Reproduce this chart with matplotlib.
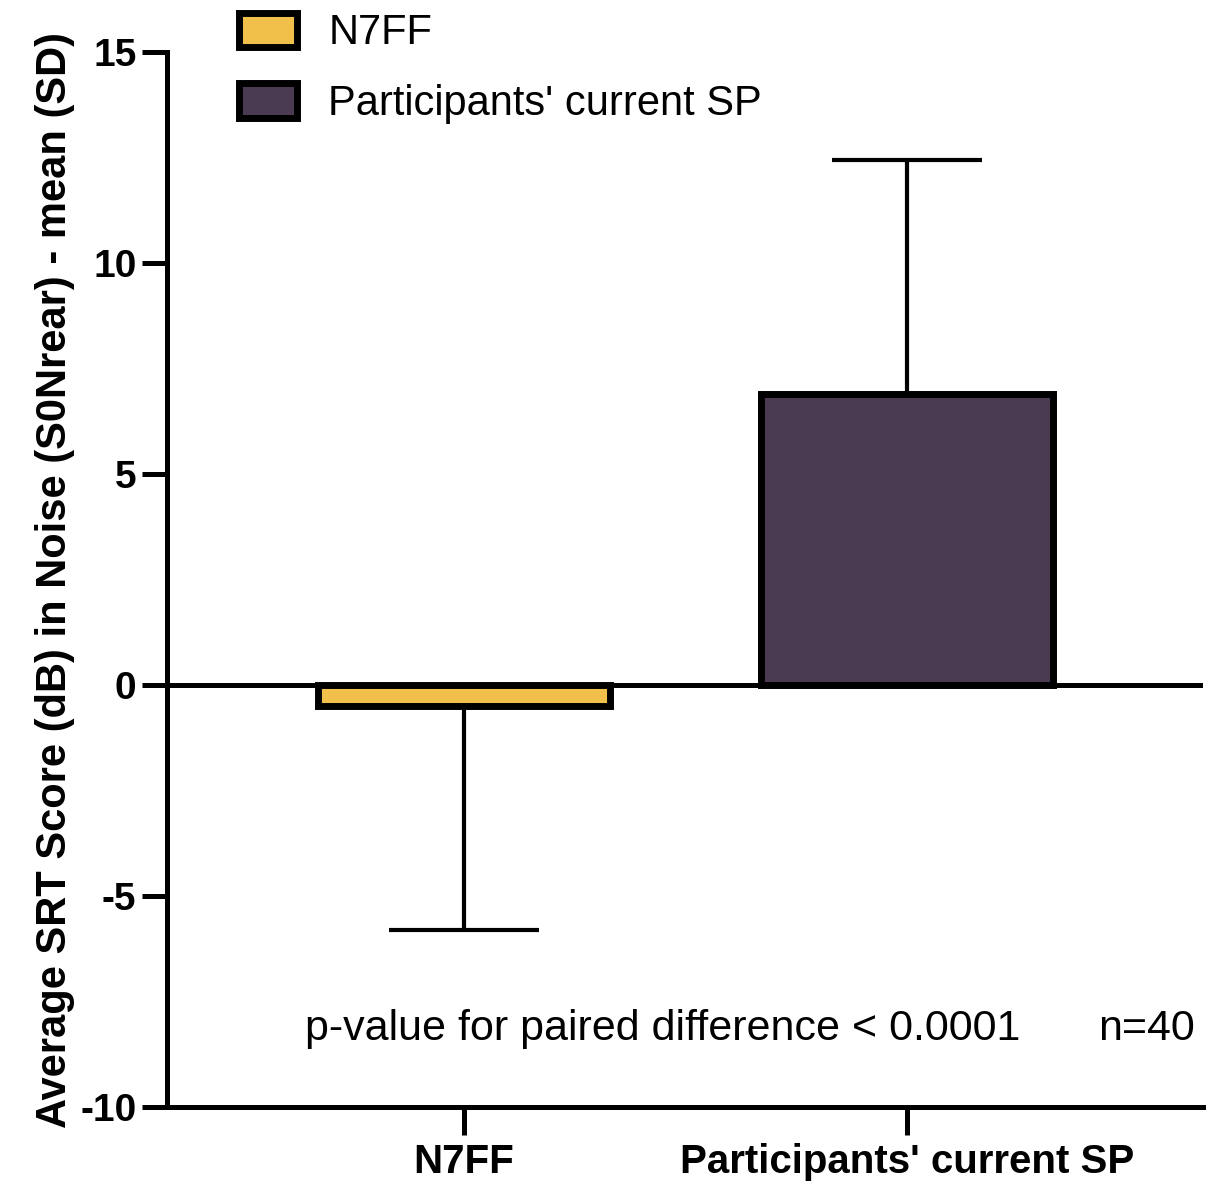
import matplotlib.pyplot as plt
import matplotlib.patches as mpatches

# data
groups = ["N7FF", "Participants' current SP"]
means = [-0.5, 6.9]
sds = [5.3, 5.55]
colors = ["#F0C04A", "#4A3A52"]
yticks = [-10, -5, 0, 5, 10, 15]

plt.rcParams['font.family'] = ['Liberation Sans', 'DejaVu Sans']

fig = plt.figure(figsize=(12.12, 11.85), dpi=100)
ax = fig.add_axes([0.1378, 0.0658, 0.8548, 0.8902])

x = [0, 1]
ax.bar(x, means, width=0.66, color=colors, edgecolor='black', linewidth=5, zorder=3)

# one-sided error bars (away from zero)
for xi, m, s in zip(x, means, sds):
    if m < 0:
        err = [[s], [0]]
    else:
        err = [[0], [s]]
    ax.errorbar(xi, m, yerr=err, fmt='none', ecolor='black', elinewidth=3,
                capsize=54, capthick=3, zorder=2)

ax.axhline(0, color='black', linewidth=3.6, zorder=4)

ax.set_xlim(-0.6705, 1.668)
ax.set_ylim(-10, 15)
ax.set_yticks(yticks)
ax.set_yticklabels([str(t) for t in yticks], fontsize=28, fontweight='bold')
ax.set_xticks(x)
ax.set_xticklabels(groups, fontsize=29, fontweight='bold')

ax.spines['top'].set_visible(False)
ax.spines['right'].set_visible(False)
ax.spines['left'].set_linewidth(3.6)
ax.spines['bottom'].set_linewidth(3.6)
ax.tick_params(axis='y', length=18, width=3.6, pad=4)
ax.tick_params(axis='x', length=20, width=3.6, pad=6)

ax.set_ylabel("Average SRT Score (dB) in Noise (S0Nrear) - mean (SD)",
              fontsize=30, fontweight='bold', labelpad=4)

ax.text(-0.359, -8.15, "p-value for paired difference < 0.0001", fontsize=31,
        ha='left', va='center')
ax.text(1.65, -8.15, "n=40", fontsize=31, ha='right', va='center')

handles = [mpatches.Patch(facecolor=c, edgecolor='black', linewidth=5, label=g)
           for c, g in zip(colors, groups)]
leg = fig.legend(handles=handles, loc='upper left', bbox_to_anchor=(0.166, 1.021),
                 frameon=False, fontsize=30, handlelength=1.4, handleheight=0.9,
                 labelspacing=0.72, handletextpad=0.75)

fig.savefig('out.png', dpi=100)
